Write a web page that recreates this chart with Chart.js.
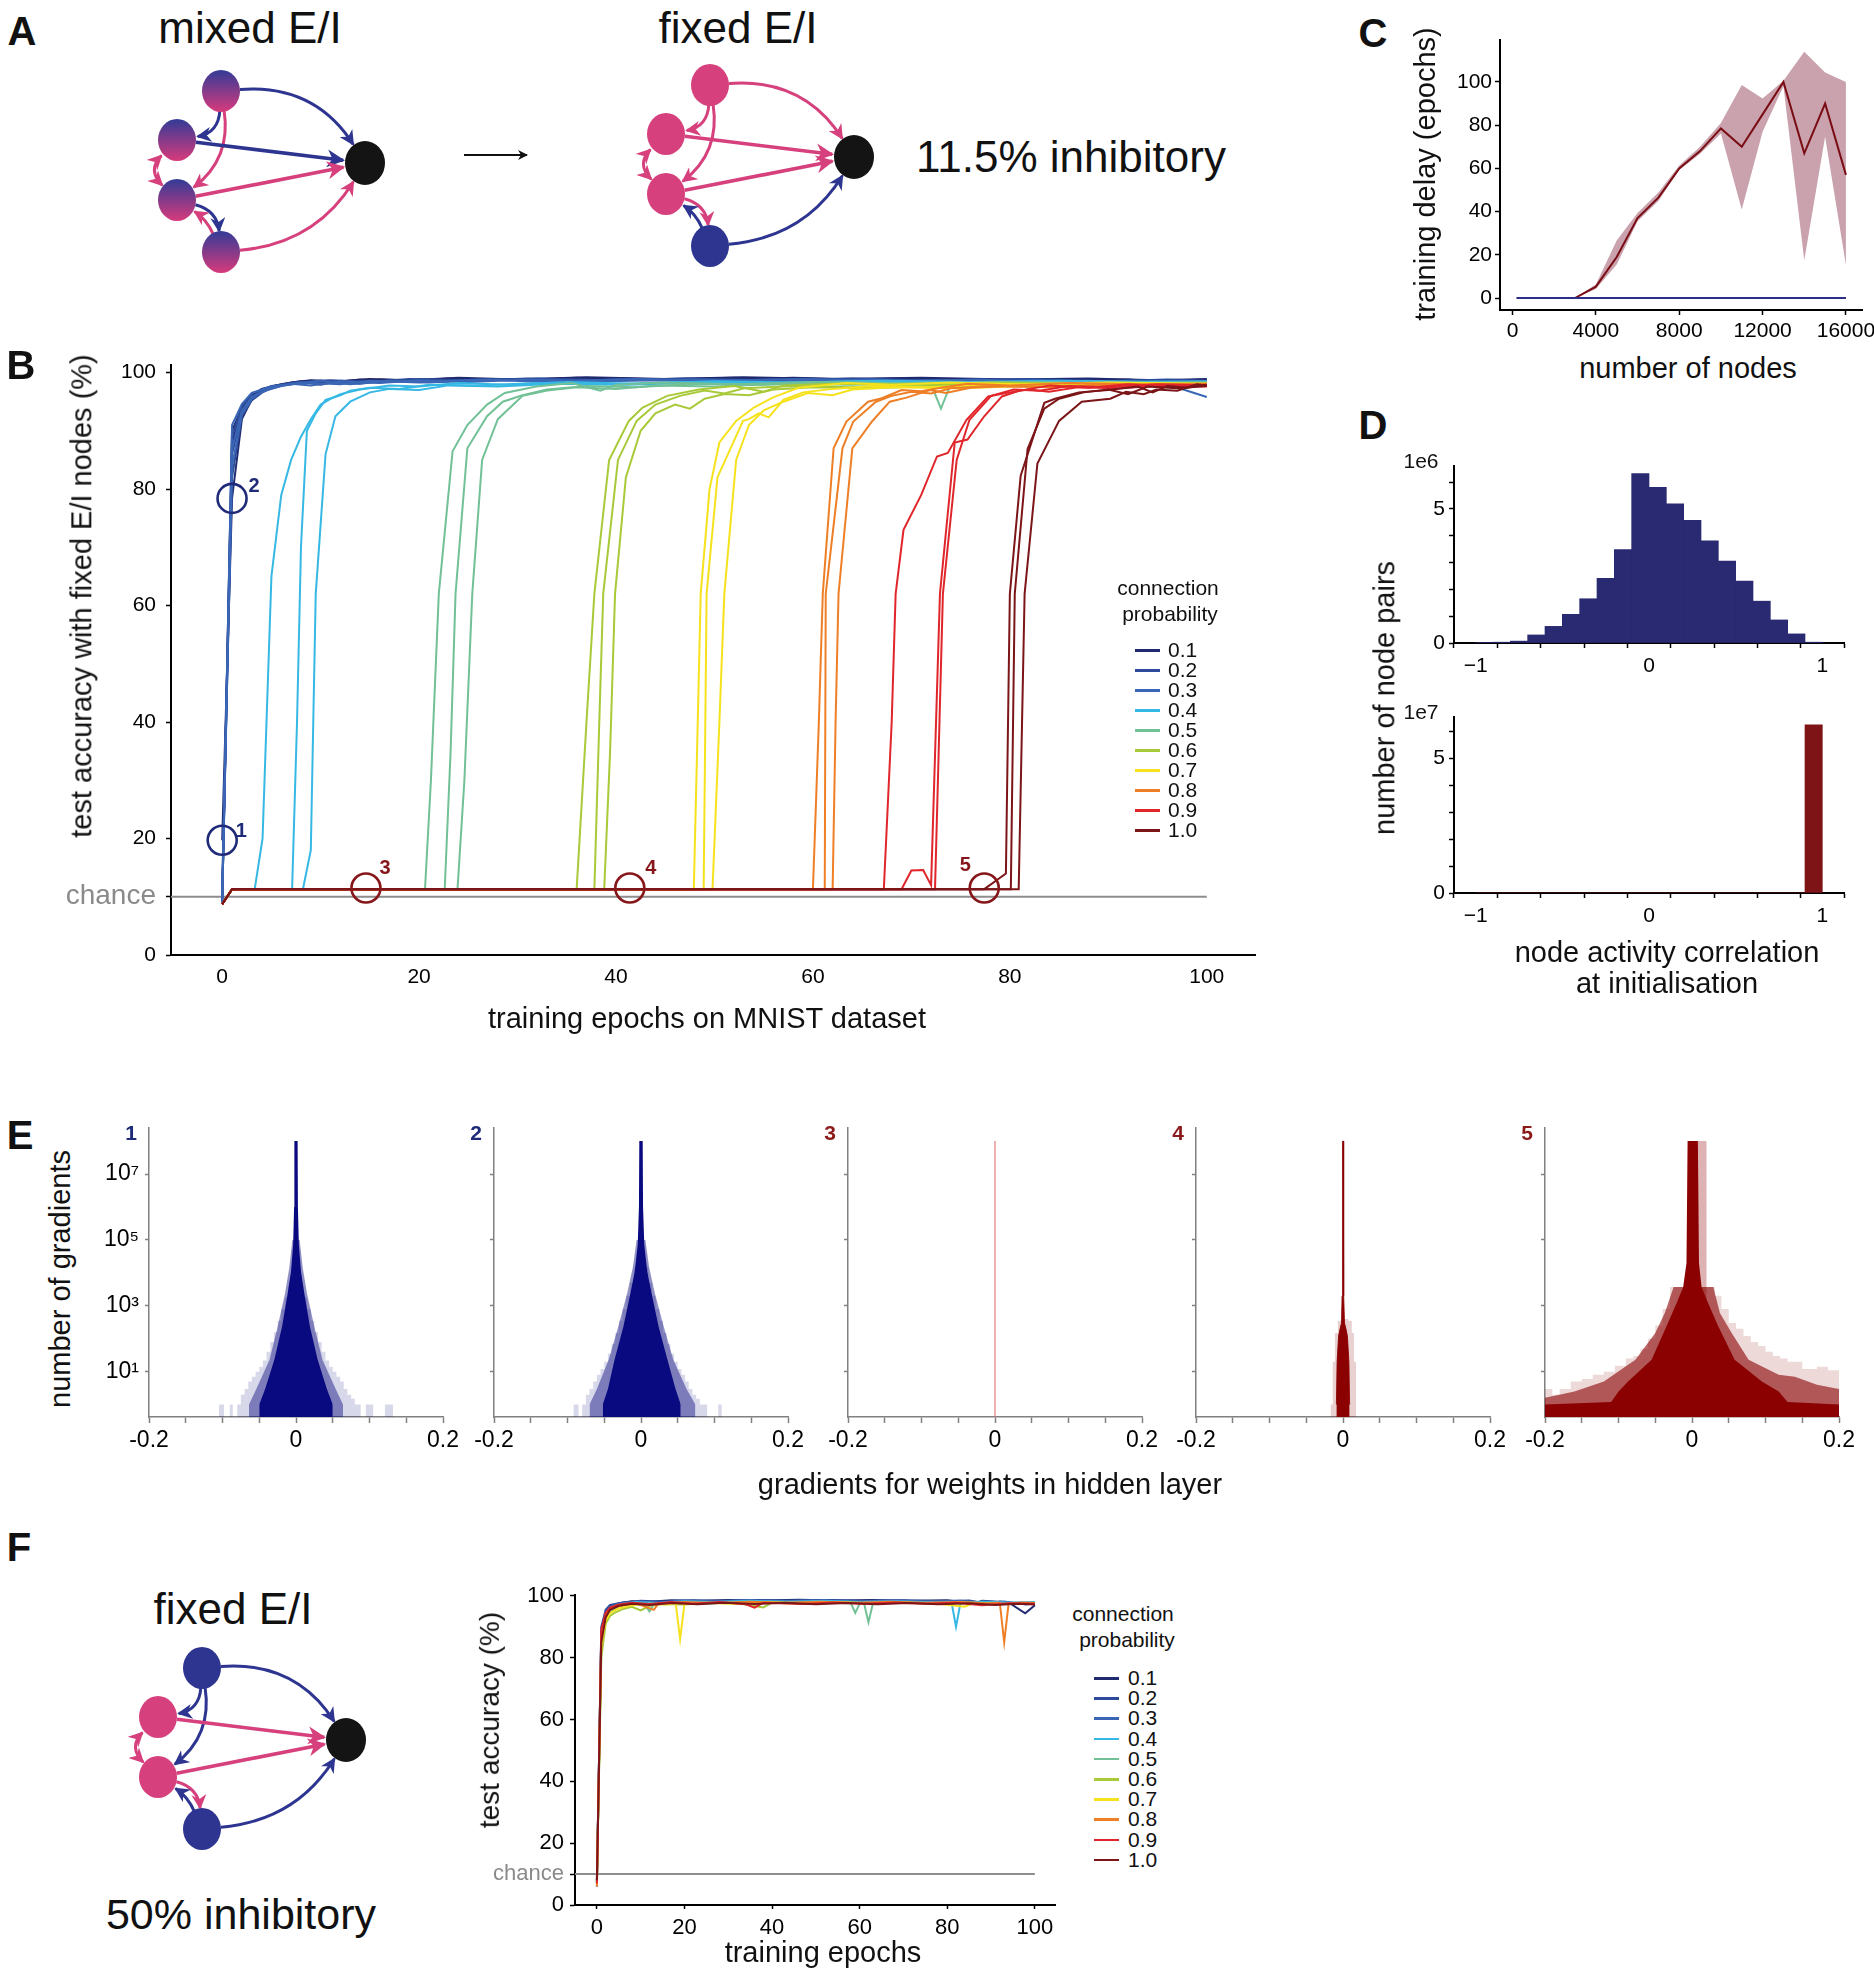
<!DOCTYPE html>
<html>
<head>
<meta charset="utf-8">
<title>fixed E/I figure</title>
<script src="https://cdn.jsdelivr.net/npm/chart.js@4.4.1/dist/chart.umd.min.js"></script>
<style>
  html, body { margin: 0; padding: 0; background: #fff; }
  body { position: relative; width: 1874px; height: 1973px; overflow: hidden;
         font-family: 'Liberation Sans', Arial, Helvetica, sans-serif; color: #111; }
  canvas, .t, .lt, .pl, svg, .key { position: absolute; }
  .t { white-space: nowrap; transform: translate(-50%, -50%); font-size: 29px; line-height: 1.15; }
  .lt { white-space: nowrap; transform: translate(0, -50%); font-size: 21px; line-height: 1.15; }
  .r { transform: translate(-50%, -50%) rotate(-90deg); }
  .pl { font-weight: bold; font-size: 40px; transform: translate(-50%, -50%); line-height: 1.15; }
  .big { font-size: 44px; }
  .sm { font-size: 21px; }
  .num { font-weight: bold; font-size: 21px; }
  .key { height: 2.5px; width: 25px; }
</style>
</head>
<body>

<svg id="nets" width="1874" height="1973" style="left:0;top:0"></svg>

<canvas id="chartB" width="1260" height="690" style="left:20px;top:340px;width:1260px;height:690px"></canvas>
<canvas id="chartC" width="440" height="330" style="left:1440px;top:20px;width:440px;height:330px"></canvas>
<canvas id="chartD1" width="470" height="240" style="left:1400px;top:445px;width:470px;height:240px"></canvas>
<canvas id="chartD2" width="470" height="240" style="left:1400px;top:697px;width:470px;height:240px"></canvas>
<canvas id="chartE1" width="389" height="370" style="left:79px;top:1105px;width:389px;height:370px"></canvas>
<canvas id="chartE2" width="389" height="370" style="left:424px;top:1105px;width:389px;height:370px"></canvas>
<canvas id="chartE3" width="389" height="370" style="left:778px;top:1105px;width:389px;height:370px"></canvas>
<canvas id="chartE4" width="389" height="370" style="left:1126px;top:1105px;width:389px;height:370px"></canvas>
<canvas id="chartE5" width="389" height="370" style="left:1475px;top:1105px;width:389px;height:370px"></canvas>
<canvas id="chartF" width="610" height="398" style="left:460px;top:1575px;width:610px;height:398px"></canvas>

<!-- A -->
<div class="pl" style="left:22px;top:31px">A</div>
<div class="t big" style="left:250px;top:28px">mixed E/I</div>
<div class="t big" style="left:738px;top:28px">fixed E/I</div>
<div class="t" style="left:1071px;top:157px;font-size:44px">11.5% inhibitory</div>

<!-- B -->
<div class="pl" style="left:21px;top:365px">B</div>
<div class="t r" style="left:82px;top:596px">test accuracy with fixed E/I nodes (%)</div>
<div class="t" style="left:707px;top:1019px">training epochs on MNIST dataset</div>
<div class="t sm" style="left:1168px;top:588px">connection</div>
<div class="t sm" style="left:1170px;top:614px">probability</div>
<div id="legendB"></div>

<!-- C -->
<div class="pl" style="left:1373px;top:33px">C</div>
<div class="t r" style="left:1426px;top:174px">training delay (epochs)</div>
<div class="t" style="left:1688px;top:369px">number of nodes</div>

<!-- D -->
<div class="pl" style="left:1373px;top:425px">D</div>
<div class="t sm" style="left:1421px;top:461px">1e6</div>
<div class="t sm" style="left:1421px;top:712px">1e7</div>
<div class="t r" style="left:1385px;top:698px">number of node pairs</div>
<div class="t" style="left:1667px;top:953px">node activity correlation</div>
<div class="t" style="left:1667px;top:984px">at initialisation</div>

<!-- E -->
<div class="pl" style="left:20px;top:1135px">E</div>
<div class="t r" style="left:61px;top:1279px">number of gradients</div>
<div class="t" style="left:990px;top:1485px">gradients for weights in hidden layer</div>
<div class="t num" style="left:131px;top:1133px;color:#1f2a78">1</div>
<div class="t num" style="left:476px;top:1133px;color:#1f2a78">2</div>
<div class="t num" style="left:830px;top:1133px;color:#8b1a1a">3</div>
<div class="t num" style="left:1178px;top:1133px;color:#8b1a1a">4</div>
<div class="t num" style="left:1527px;top:1133px;color:#8b1a1a">5</div>

<!-- F -->
<div class="pl" style="left:19px;top:1547px">F</div>
<div class="t big" style="left:233px;top:1609px">fixed E/I</div>
<div class="t" style="left:241px;top:1915px;font-size:43px">50% inhibitory</div>
<div class="t r" style="left:490px;top:1720px;font-size:28px">test accuracy (%)</div>
<div class="t" style="left:823px;top:1953px">training epochs</div>
<div class="t sm" style="left:1123px;top:1614px">connection</div>
<div class="t sm" style="left:1127px;top:1640px">probability</div>
<div id="legendF"></div>

<script>
// ---------- data ----------
const probLabels = ['0.1', '0.2', '0.3', '0.4', '0.5', '0.6', '0.7', '0.8', '0.9', '1.0'];
const probColors = ['#202a6f', '#2c4b9b', '#3a66b5', '#36b8e4', '#72c096',
                    '#a8c938', '#f6e21c', '#ee7f26', '#e1262b', '#7b1518'];

// B: test accuracy per epoch, three runs per connection probability, [epoch, %]
const runsB01 = [
  [[0,19.7],[1,78.4],[2,92],[3,95.4],[4,96.8],[5,97.6],[7,98.3],[9,98.7],[12,98.5],[15,98.9],[19,98.7],[24,99.1],[30,98.8],[37,99.2],[45,98.9],[53,99.2],[62,98.9],[71,99.1],[80,98.8],[88,99],[95,98.7],[100,98.9]],
  [[0,9],[1,88],[2,93.6],[3,96],[4,97.2],[6,98],[8,98.5],[11,98.3],[14,98.8],[18,98.5],[23,99],[29,98.7],[36,99.1],[44,98.8],[52,99.1],[61,98.8],[70,99],[79,98.7],[87,98.9],[94,98.5],[100,98.8]],
  [[0,9.3],[1,90],[2,94],[3,96.2],[5,97.6],[7,98],[9,98.6],[13,98.2],[16,98.8],[21,98.5],[27,98.9],[33,98.6],[41,99],[49,98.7],[58,99.1],[67,98.7],[76,98.9],[85,98.6],[92,98.8],[97,98.2],[100,98.7]]
];
const runsB02 = [
  [[0,9.1],[1,86],[2,93],[3,95.7],[4,97],[6,97.9],[8,98.4],[10,97.9],[12,98.6],[16,98.3],[20,98.9],[26,98.6],[32,99],[39,98.7],[47,99],[55,98.7],[64,99],[73,98.6],[82,98.9],[90,98.5],[96,98.8],[100,98.6]],
  [[0,12],[1,82],[2,92.6],[3,95.2],[4,96.5],[5,97.4],[7,98.2],[10,98.6],[14,98.1],[17,98.7],[22,98.4],[28,98.9],[35,98.6],[43,98.9],[51,98.5],[60,98.9],[69,98.6],[78,98.8],[86,98.4],[93,98.7],[100,98.5]],
  [[0,9.4],[1,89],[2,94.3],[3,96.4],[5,97.7],[8,98.3],[11,98.7],[15,98.4],[19,98.9],[25,98.6],[31,99],[38,98.6],[46,98.9],[54,98.5],[63,98.9],[72,98.5],[81,98.8],[89,98.3],[95,98.6],[100,98.3]]
];
const runsB03 = [
  [[0,9.2],[1,84],[2,92.8],[3,95.5],[4,96.7],[6,97.7],[8,98.2],[10,98.6],[13,98],[17,98.6],[21,98.3],[27,98.8],[34,98.5],[42,98.9],[50,98.6],[59,98.9],[68,98.5],[77,98.8],[84,98.2],[86,98.6],[91,98.1],[95,98.5],[100,95.8]],
  [[0,10],[1,87],[2,93.5],[3,95.9],[5,97.3],[7,98.1],[9,97.8],[12,98.5],[16,98.2],[20,98.7],[25,98.4],[31,98.8],[39,98.5],[48,98.8],[57,98.4],[66,98.8],[75,98.4],[83,98.7],[89,97.9],[92,98.5],[95,97.6],[97,98.3],[100,98.2]],
  [[0,9],[1,91],[2,94.6],[3,96.5],[5,97.6],[8,98.3],[12,98],[15,98.6],[20,98.3],[26,98.8],[33,98.4],[40,98.8],[48,98.5],[56,98.8],[65,98.4],[74,98.7],[82,98.3],[88,98.6],[94,97.9],[100,98.3]]
];
const runsB04 = [
  [[0,8.7],[1,11.3],[3.3,11.3],[4.1,20],[5,65],[6,79],[7,85],[8,89],[9,92],[10,94.5],[11,95.5],[12,96.3],[14,97.1],[17,97.8],[20,97.6],[24,98.2],[29,97.9],[35,98.4],[42,98.1],[50,98.5],[58,98.3],[67,98.6],[76,98.4],[85,98.6],[93,98.4],[100,98.5]],
  [[0,8.7],[1,11.3],[7.1,11.3],[7.6,40],[8,70],[8.6,90],[9.5,93],[10.5,95.3],[12,96.1],[13,96.9],[15,97.4],[18,97.2],[21,97.9],[26,97.8],[32,98.2],[39,98],[47,98.4],[56,98.2],[65,98.5],[75,98.3],[86,98.5],[100,98.4]],
  [[0,8.7],[1,11.3],[8.2,11.3],[9,18],[9.5,62],[10.5,86],[11.5,92.5],[13,95],[15,96.6],[17,97.2],[20,97],[23,97.8],[28,97.6],[34,98.1],[41,97.9],[49,98.3],[57,98.1],[66,98.4],[76,98.2],[88,98.4],[100,98.3]]
];
const runsB05 = [
  [[0,8.7],[1,11.3],[20.6,11.3],[21.2,30],[22,62],[23.4,86.5],[24.9,91],[26.9,94.5],[28.7,96.5],[31.9,97.6],[35.5,98.2],[38.4,96.9],[40,97.9],[45,98.3],[52,98],[60,98.4],[68,98.2],[72,98],[73,93.8],[74,98],[82,98.3],[91,98.1],[100,98.3]],
  [[0,8.7],[1,11.3],[22.6,11.3],[23.2,35],[23.7,62],[24.9,87],[26.9,92.5],[28.5,95],[30.5,96.1],[33,97.1],[37,97.7],[42,97.5],[48,98.1],[55,97.9],[63,98.3],[71,98.1],[80,98.4],[90,98.2],[100,98.3]],
  [[0,8.7],[1,11.3],[23.9,11.3],[24.6,30],[25.4,62],[26.4,85],[28,92],[30.5,96],[33,96.9],[36,97.5],[40,97.2],[44,97.8],[50,97.6],[57,98.1],[64,97.9],[72,98.3],[81,98.1],[91,98.3],[100,98.2]]
];
const runsB06 = [
  [[0,8.7],[1,11.3],[36,11.3],[37,40],[37.8,62],[39.3,85],[41.3,91.7],[42.7,94],[45.2,96],[48.4,97.1],[52,97.7],[55,96.7],[57,97.8],[62,98.1],[70,97.9],[78,98.3],[88,98.1],[100,98.2]],
  [[0,8.7],[1,11.3],[37.8,11.3],[38.3,40],[38.7,62],[40.2,85],[42.1,91.7],[44,94.5],[46.5,96],[49,96.9],[51,96.4],[53,97.3],[58,97.7],[64,97.5],[71,98],[80,97.8],[90,98.1],[100,98]],
  [[0,8.7],[1,11.3],[38.8,11.3],[39.4,35],[39.9,62],[41,82],[42.5,90],[44,93],[46,94.5],[47.5,93.8],[49,95.5],[51,96.3],[53.5,96.1],[56,97.1],[60,97.5],[66,97.3],[73,97.8],[82,97.6],[92,97.9],[100,97.8]]
];
const runsB07 = [
  [[0,8.7],[1,11.3],[47.9,11.3],[48.3,40],[48.6,62],[49.5,80],[50.5,88],[52.2,91.7],[54,94],[55.9,95.7],[58.5,97.4],[63.4,98.2],[68,97.9],[74,98.3],[81,98],[90,98.3],[100,98.1]],
  [[0,8.7],[1,11.3],[48.9,11.3],[49.2,62],[50.3,82],[52.9,91.7],[53.5,92],[54.5,93],[55.5,92.3],[57,95.3],[59,96.6],[62,97.2],[66,97.7],[72,97.5],[78,98],[86,97.8],[94,98.1],[100,98]],
  [[0,8.7],[1,11.3],[49.8,11.3],[50.5,40],[51,62],[52.2,85],[53.5,91],[55,93.5],[57,95],[59.5,96.5],[62,96.1],[64,97.1],[68,97.5],[75,97.3],[83,97.8],[92,97.6],[100,97.8]]
];
const runsB08 = [
  [[0,8.7],[1,11.3],[60,11.3],[60.6,40],[61,62],[62.1,87],[63.4,91.6],[65.6,95],[67,95.6],[69,97],[71,96.8],[73,97.4],[75.7,98.1],[80,97.8],[86,98.2],[93,98],[100,98.1]],
  [[0,8.7],[1,11.3],[61.2,11.3],[61.3,62],[63,87],[64.1,91.6],[66.4,95],[68,96],[70,96.7],[72,96.4],[74,97.3],[78,97.7],[84,97.5],[90,98],[100,97.8]],
  [[0,8.7],[1,11.3],[62,11.3],[62.3,40],[62.6,62],[64,87],[66,91.6],[67.8,95],[69.5,95.7],[71.9,97],[73.5,96.5],[76,97.4],[80,97.7],[87,97.5],[94,97.9],[100,97.7]]
];
const runsB09 = [
  [[0,8.7],[1,11.3],[67.2,11.3],[68,40],[68.4,62],[69.2,73],[71,79],[72.6,85.6],[73.7,86.2],[75.6,91.9],[77.8,95.9],[80,96.6],[81.9,97.1],[84,96.7],[87,97.5],[91,97.3],[95,97.7],[100,97.6]],
  [[0,8.7],[1,11.3],[69,11.3],[70,14.5],[71.2,14.6],[72,12],[72.9,62],[74.4,88],[75.7,88.5],[77.4,92.5],[79.2,95.9],[81,96.9],[84.1,97.8],[88,97.4],[92,98],[96,97.6],[100,97.9]],
  [[0,8.7],[1,11.3],[72.4,11.3],[73.2,62],[74.6,85],[75.9,91.9],[78.1,96],[80.4,97.1],[83,96.9],[86,97.7],[90,97.5],[95,98],[100,97.8]]
];
const runsB10 = [
  [[0,8.7],[1,11.3],[77.4,11.3],[78.8,13],[79.6,14],[80,62],[81.1,82.3],[83.5,94.8],[84.6,95.5],[87,96.6],[90,97],[93,97.6],[94.5,96.6],[96,97.7],[98,97.4],[100,97.9]],
  [[0,8.7],[1,11.3],[80.1,11.3],[80.5,62],[81.8,86.9],[83.5,93.8],[85,95.5],[87.5,96.6],[90,97.1],[92,96.3],[94,97.6],[97,97.3],[100,97.7]],
  [[0,8.7],[1,11.3],[80.9,11.3],[81.5,62],[82.8,84.4],[85,91.7],[87.3,95],[90.2,95.5],[91.8,96.7],[93.6,96.3],[94.9,97.1],[97,96.9],[99,98],[100,97.8]]
];
const runsB = [runsB01, runsB02, runsB03, runsB04, runsB05, runsB06, runsB07, runsB08, runsB09, runsB10];

const markerEpochs = [0, 1, 14.6, 41.4, 77.4];
const markerAcc = [19.7, 78.4, 11.5, 11.5, 11.5];
const markerNames = ['1', '2', '3', '4', '5'];
const chanceAcc = 10;
const epochTicks = [0, 20, 40, 60, 80, 100];
const accTicks = [0, 10, 20, 40, 60, 80, 100];

// C: training delay vs network size
const nodeCounts = [200, 1000, 2000, 3000, 4000, 5000, 6000, 7000, 8000, 9000, 10000, 11000, 12000, 13000, 14000, 15000, 16000];
const delayFixed = [0, 0, 0, 0, 5.3, 19, 37, 46.5, 60, 68, 78.5, 70, 85, 100, 67, 90, 57];
const delayUpper = [0, 0, 0, 0, 6.3, 26.6, 39.4, 48.8, 61.3, 70, 81, 98.6, 92.3, 100.5, 114, 104.4, 100];
const delayLower = [0, 0, 0, 0, 4.2, 15.5, 35.5, 44.9, 59.3, 66.8, 76.2, 41, 77, 98, 17.5, 74.6, 15.2];
const delayMixed = [0, 0, 0, 0, 0, 0, 0, 0, 0, 0, 0, 0, 0, 0, 0, 0, 0];
const nodeTicks = [0, 4000, 8000, 12000, 16000];
const delayTicks = [0, 20, 40, 60, 80, 100];

// D: node activity correlation histograms (bins of 0.1)
const corrBins = [-0.95, -0.85, -0.75, -0.65, -0.55, -0.45, -0.35, -0.25, -0.15, -0.05,
                  0.05, 0.15, 0.25, 0.35, 0.45, 0.55, 0.65, 0.75, 0.85, 0.95];
const pairsMixed = [0.02e6, 0.03e6, 0.07e6, 0.3e6, 0.62e6, 1.07e6, 1.65e6, 2.41e6, 3.48e6, 6.32e6,
                    5.8e6, 5.19e6, 4.57e6, 3.81e6, 3.05e6, 2.31e6, 1.56e6, 0.86e6, 0.34e6, 0.03e6];
const pairsFixed = [0, 0, 0, 0, 0, 0, 0, 0, 0, 0, 0, 0, 0, 0, 0, 0, 0, 0, 0, 6.23e7];
const corrTicks = [-1, -0.75, -0.5, -0.25, 0, 0.25, 0.5, 0.75, 1];
const corrLabels = ['\u22121', '', '', '', '0', '', '', '', '1'];
const pairTicksMixed = [0, 1e6, 2e6, 3e6, 4e6, 5e6, 6e6];
const pairTicksFixed = [0, 1e7, 2e7, 3e7, 4e7, 5e7, 6e7];

// E: gradient histograms [gradient, count]; "light" layers are binned (left edge, count)
const gradCore1 = [[-0.05,1],[-0.042,3],[-0.0295,23],[-0.019,230],[-0.0114,2300],[-0.0068,1.1e4],[-0.0039,7e4],[-0.0026,1e6],[-0.0022,1e8],[0.0022,1e8],[0.0026,1e6],[0.0039,7e4],[0.0068,1.1e4],[0.0114,2300],[0.019,230],[0.0295,23],[0.042,3],[0.05,1]];
const gradMid1 = [[-0.064,1],[-0.054,3],[-0.036,23],[-0.025,230],[-0.015,2300],[-0.009,1.5e4],[-0.005,1e5],[0.005,1e5],[0.009,1.5e4],[0.015,2300],[0.025,230],[0.036,23],[0.054,3],[0.064,1]];
const gradLight1 = [[-0.105,1],[-0.098,0.42],[-0.09,1],[-0.086,0.42],[-0.08,1],[-0.075,2],[-0.07,3],[-0.065,5],[-0.06,7],[-0.055,10],[-0.05,14],[-0.045,22],[-0.04,40],[-0.035,80],[-0.03,160],[-0.025,350],[-0.02,800],[-0.015,1800],[-0.01,4000],[-0.005,1e4],[0.005,4000],[0.01,1800],[0.015,800],[0.02,350],[0.025,160],[0.03,80],[0.035,40],[0.04,22],[0.045,14],[0.05,10],[0.055,7],[0.06,5],[0.065,3],[0.07,2],[0.075,1.5],[0.08,1],[0.088,0.42],[0.095,1],[0.105,0.42],[0.121,1],[0.132,0.42]];
const gradCore2 = [[-0.052,1],[-0.045,3],[-0.036,23],[-0.024,230],[-0.0145,2300],[-0.0085,1.1e4],[-0.0045,7e4],[-0.0028,1e6],[-0.0023,1e8],[0.0023,1e8],[0.0028,1e6],[0.0045,7e4],[0.0085,1.1e4],[0.0145,2300],[0.024,230],[0.036,23],[0.047,3],[0.054,1]];
const gradMid2 = [[-0.07,1],[-0.06,3],[-0.044,23],[-0.031,230],[-0.019,2300],[-0.011,1.5e4],[-0.006,1e5],[0.006,1e5],[0.011,1.5e4],[0.019,2300],[0.031,230],[0.044,23],[0.062,3],[0.074,1]];
const gradLight2 = [[-0.092,1],[-0.085,0.42],[-0.08,1],[-0.075,2],[-0.07,3],[-0.065,5],[-0.06,8],[-0.055,12],[-0.05,20],[-0.045,35],[-0.04,70],[-0.035,150],[-0.03,350],[-0.025,800],[-0.02,2000],[-0.015,5000],[-0.01,1.5e4],[0.01,5000],[0.015,2000],[0.02,800],[0.025,350],[0.03,150],[0.035,70],[0.04,35],[0.045,20],[0.05,12],[0.055,8],[0.06,5],[0.065,3],[0.07,2],[0.075,1.5],[0.08,1],[0.09,0.42],[0.105,1],[0.11,0.42]];
const gradLine3 = [[0,0.42],[0,1e8]];
const gradCore4 = [[-0.009,1],[-0.008,20],[-0.006,120],[-0.004,200],[-0.002,300],[-0.0012,2000],[-0.0006,1e5],[-0.0004,1e8],[0.0004,1e8],[0.0006,1e5],[0.0012,2000],[0.002,300],[0.004,200],[0.006,120],[0.008,20],[0.009,1]];
const gradLight4 = [[-0.017,1],[-0.014,20],[-0.011,150],[-0.007,350],[0,400],[0.007,350],[0.012,150],[0.015,20],[0.018,1]];
const gradCore5 = [[-0.2,1],[-0.11,1.2],[-0.1,2.5],[-0.087,5],[-0.055,23],[-0.035,230],[-0.021,1200],[-0.012,3700],[-0.0075,2e4],[-0.006,1e8],[0.008,1e8],[0.0095,2e4],[0.013,3700],[0.022,1200],[0.036,230],[0.058,23],[0.095,5],[0.118,2.5],[0.13,1.2],[0.2,1]];
const gradMid5 = [[-0.2,1.6],[-0.16,2.5],[-0.12,5],[-0.077,23],[-0.05,150],[-0.037,600],[-0.025,3700],[0.029,3700],[0.038,600],[0.054,150],[0.077,23],[0.118,8],[0.14,7],[0.17,4],[0.2,3]];
const gradSpike5 = [[0.006,1e8],[0.02,1e8]];
const gradLight5 = [[-0.2,3],[-0.19,2],[-0.18,3],[-0.165,5],[-0.15,6],[-0.135,8],[-0.12,10],[-0.105,15],[-0.09,25],[-0.08,30],[-0.07,50],[-0.06,100],[-0.05,250],[-0.04,800],[-0.03,3700],[0.031,2000],[0.04,800],[0.05,300],[0.06,200],[0.07,120],[0.08,80],[0.09,60],[0.1,40],[0.11,30],[0.12,25],[0.13,20],[0.15,12],[0.17,14],[0.185,11],[0.2,11]];
const gradTicks = [-0.2, -0.15, -0.1, -0.05, 0, 0.05, 0.1, 0.15, 0.2];
const gradLabels = ['-0.2', '', '', '', '0', '', '', '', '0.2'];
const countTicks = [10, 1e3, 1e5, 1e7];
const countLabels = ['10\u00b9', '10\u00b3', '10\u2075', '10\u2077'];

// F: 50% inhibitory, one run per connection probability
const runsF = [
  [[0,7.5],[1,88],[2,95],[3,96.6],[5,97.6],[8,98.3],[12,98.1],[17,98.6],[23,98.4],[30,98.7],[38,98.5],[46,98.8],[55,98.5],[63,98.7],[72,98.4],[80,98.6],[86,97.6],[88,98.4],[94,97.9],[97.8,94.4],[100,97]],
  [[0,6],[1,90],[2,95.5],[3,97.1],[6,97.9],[10,98.4],[16,98.1],[22,98.6],[29,98.3],[37,98.7],[45,98.4],[54,98.7],[62,98.3],[70,98.6],[78,98.3],[85,98.5],[90,97.3],[92,98.2],[96,97.5],[100,97.9]],
  [[0,8],[1,87],[2,94.5],[3,96.4],[5,97.5],[9,98.2],[14,97.9],[19,98.5],[26,98.2],[33,98.6],[41,98.3],[49,98.6],[58,98.2],[66,98.5],[74,98.2],[83,98.4],[89,97.8],[93,98.2],[98,97.2],[100,97.6]],
  [[0,7],[1,86],[2,94],[3,96],[5,97.2],[9,98],[14,97.7],[20,98.3],[27,98],[35,98.4],[44,98.1],[52,98.4],[60,98],[68,98.3],[75,98],[81,97.8],[82,90],[83,97.6],[88,98.2],[94,97.9],[100,98]],
  [[0,7],[1,82],[2,93],[3,95],[5,96.5],[8,97.4],[11,97],[12,95],[13,97.3],[18,97.8],[25,97.5],[32,98],[40,97.7],[48,98],[55,97.7],[58,97.6],[59,94.5],[60,97.5],[61,97.6],[62,91.5],[63,97.4],[68,97.9],[76,97.6],[84,97.9],[92,97.6],[100,97.8]],
  [[0,7.5],[1,80],[2,91],[3,93.5],[4,94.5],[6,95.8],[8,96.5],[10,95.3],[12,96.8],[15,97.4],[20,97.2],[26,97.8],[33,97.5],[38,96.3],[40,97.8],[47,97.5],[54,98],[61,97.6],[69,97.9],[77,97.5],[85,97.8],[93,97.4],[100,97.7]],
  [[0,7],[1,84],[2,92],[3,94.5],[5,96],[8,97],[12,97.5],[16,97.2],[18,97.6],[19,86],[20,97.4],[25,97.8],[31,97.5],[38,98],[46,97.7],[54,98],[62,97.6],[70,97.9],[78,97.5],[84,96.5],[86,97.7],[92,97.3],[100,97.6]],
  [[0,6],[1,87],[2,94],[3,95.8],[5,96.8],[9,97.6],[13,95.5],[14,97.5],[20,98],[27,97.7],[35,98.1],[43,97.8],[51,98.1],[59,97.8],[67,98.1],[75,97.8],[83,98],[89,97.6],[92,97.8],[93,85],[94,97.5],[97,97.9],[100,97.7]],
  [[0,7],[1,89],[2,94.5],[3,96.2],[5,97.2],[8,97.8],[12,97.4],[17,98],[22,97.5],[28,98],[34,97.3],[36,96.2],[38,97.8],[47,97.4],[54,97.9],[61,97.5],[68,97.9],[75,97.5],[82,97.8],[88,97],[94,97.6],[100,97.5]],
  [[0,8],[1,85],[2,93],[3,95.5],[5,96.8],[8,97.5],[12,97.1],[17,97.7],[23,97.3],[29,97.8],[36,97.4],[43,97.8],[50,97.3],[57,97.7],[64,97.3],[71,97.7],[78,97.3],[85,97.6],[91,97.1],[96,97.5],[100,97.2]]
];
const accTicksF = [0, 10, 20, 40, 60, 80, 100];

// ---------- helpers ----------
Chart.defaults.font.family = "'Liberation Sans', Arial, Helvetica, sans-serif";
Chart.defaults.font.size = 21;
Chart.defaults.color = '#000';
Chart.defaults.animation = false;
Chart.defaults.events = [];
Chart.defaults.plugins.legend.display = false;
Chart.defaults.plugins.tooltip.enabled = false;

function fixedAxis(o) {
  return {
    type: o.type || 'linear',
    min: o.min,
    max: o.max,
    afterBuildTicks: s => { s.ticks = o.ticks.map(v => ({ value: v })); },
    afterFit: s => {
      if (s.isHorizontal()) s.height = o.size; else s.width = o.size;
    },
    border: { display: true, color: o.line || '#000', width: o.lineWidth || 2 },
    grid: {
      display: true, drawOnChartArea: false, drawTicks: true,
      tickLength: o.tickLength == null ? 5 : o.tickLength,
      tickWidth: 1.5, tickColor: o.tickColor || o.line || '#000'
    },
    ticks: {
      autoSkip: false, maxRotation: 0, minRotation: 0,
      padding: o.pad == null ? 5 : o.pad,
      color: o.color || '#000',
      font: o.font || { size: 21 },
      callback: o.label || (v => String(v))
    }
  };
}

function pts(arr) { return arr.map(p => ({ x: p[0], y: p[1] })); }

function withOrder(list) {
  // first item is drawn at the bottom
  list.forEach((d, i) => { d.order = list.length - i; });
  return list;
}

// numbered circle labels sit just beside each circle
const markerLabelDx = [19, 22, 19, 21, -19];
const markerLabelDy = [-9, -12, -20, -20, -23];
const markerLabelPlugin = {
  id: 'markerLabels',
  afterDatasetsDraw(chart) {
    const idx = chart.data.datasets.findIndex(d => d.isMarker);
    if (idx < 0) return;
    const ds = chart.data.datasets[idx];
    const ctx = chart.ctx;
    ctx.save();
    ctx.font = "bold 20px 'Liberation Sans', Arial, sans-serif";
    ctx.textAlign = 'center';
    ctx.textBaseline = 'middle';
    chart.getDatasetMeta(idx).data.forEach((el, i) => {
      ctx.fillStyle = ds.pointBorderColor[i];
      ctx.fillText(ds.names[i], el.x + markerLabelDx[i], el.y + markerLabelDy[i]);
    });
    ctx.restore();
  }
};

// ---------- B ----------
const epochMinB = -5.2;
const dsB = [{
  data: [{ x: epochMinB, y: chanceAcc }, { x: 100, y: chanceAcc }],
  borderColor: '#8d8d8d', borderWidth: 2, pointRadius: 0
}];
runsB.forEach((group, g) => {
  group.forEach(run => {
    dsB.push({ data: pts(run), borderColor: probColors[g], borderWidth: 2, pointRadius: 0 });
  });
});
dsB.push({
  isMarker: true, names: markerNames,
  data: markerEpochs.map((e, i) => ({ x: e, y: markerAcc[i] })),
  showLine: false, pointRadius: 14.5, pointBorderWidth: 2.6,
  pointBackgroundColor: 'rgba(0,0,0,0)',
  pointBorderColor: ['#1f2a78', '#1f2a78', '#86161a', '#86161a', '#86161a'],
  clip: false
});

new Chart(document.getElementById('chartB'), {
  type: 'line',
  data: { datasets: withOrder(dsB) },
  options: {
    responsive: false,
    layout: { padding: { top: 25, right: 25, left: 0, bottom: 0 } },
    scales: {
      x: fixedAxis({ min: epochMinB, max: 104.9, ticks: epochTicks, size: 75, tickLength: 4, tickColor: 'rgba(0,0,0,0)', pad: 6 }),
      y: fixedAxis({
        min: 0, max: 101.3, ticks: accTicks, size: 151, tickLength: 5, pad: 10,
        label: v => v === chanceAcc ? 'chance' : String(v),
        color: c => c.tick && c.tick.value === chanceAcc ? '#8a8a8a' : '#000',
        font: c => ({ size: c.tick && c.tick.value === chanceAcc ? 28 : 21 })
      })
    }
  },
  plugins: [markerLabelPlugin]
});

// ---------- C ----------
new Chart(document.getElementById('chartC'), {
  type: 'line',
  data: {
    datasets: [
      { data: nodeCounts.map((n, i) => ({ x: n, y: delayUpper[i] })), fill: '+1',
        backgroundColor: '#c9a2ad', borderWidth: 0, pointRadius: 0, order: 3 },
      { data: nodeCounts.map((n, i) => ({ x: n, y: delayLower[i] })),
        borderWidth: 0, pointRadius: 0, order: 4 },
      { data: nodeCounts.map((n, i) => ({ x: n, y: delayFixed[i] })),
        borderColor: '#7a0c14', borderWidth: 2, pointRadius: 0, order: 2 },
      { data: nodeCounts.map((n, i) => ({ x: n, y: delayMixed[i] })),
        borderColor: '#2b2f8a', borderWidth: 2, pointRadius: 0, order: 1 }
    ]
  },
  options: {
    responsive: false,
    layout: { padding: { top: 20, right: 18, left: 0, bottom: 0 } },
    scales: {
      x: fixedAxis({ min: -600, max: 16770, ticks: nodeTicks, size: 40, tickLength: 5, pad: 4 }),
      y: fixedAxis({ min: -5.5, max: 119.4, ticks: delayTicks, size: 60, tickLength: 5, pad: 3 })
    }
  }
});

// ---------- D ----------
function corrHist(id, counts, color, maxY, yTicks, scaleDiv, padTop, axisH) {
  new Chart(document.getElementById(id), {
    type: 'bar',
    data: {
      datasets: [{
        data: corrBins.map((b, i) => ({ x: b, y: counts[i] })),
        backgroundColor: color, borderWidth: 0,
        barPercentage: 1, categoryPercentage: 1, grouped: false
      }]
    },
    options: {
      responsive: false,
      layout: { padding: { top: padTop, right: 26, left: 0, bottom: 0 } },
      scales: {
        x: fixedAxis({ min: -1, max: 1, ticks: corrTicks, size: axisH, tickLength: 5, pad: 6,
          label: (v, i) => corrLabels[i] }),
        y: fixedAxis({ min: 0, max: maxY, ticks: yTicks, size: 54, tickLength: 5, pad: 4,
          label: v => (v === 0 || v === 5 * scaleDiv) ? String(v / scaleDiv) : '' })
      }
    }
  });
}
corrHist('chartD1', pairsMixed, '#2a2a72', 6.6e6, pairTicksMixed, 1e6, 21, 42);
corrHist('chartD2', pairsFixed, '#7f1416', 6.52e7, pairTicksFixed, 1e7, 20, 44);

// ---------- E ----------
const navyE = [10, 10, 128];
const redE = [139, 0, 0];
function rgba(c, a) { return 'rgba(' + c[0] + ',' + c[1] + ',' + c[2] + ',' + a + ')'; }

function gradHist(id, layers, showYLabels) {
  const datasets = layers.map(l => ({
    data: pts(l.data), fill: l.fill === false ? false : 'start',
    backgroundColor: rgba(l.color, l.alpha), borderColor: rgba(l.color, l.lineAlpha || l.alpha),
    borderWidth: l.width || 0, pointRadius: 0, stepped: l.stepped || false
  }));
  new Chart(document.getElementById(id), {
    type: 'line',
    data: { datasets: withOrder(datasets) },
    options: {
      responsive: false,
      layout: { padding: { top: 23, right: 25, left: 0, bottom: 0 } },
      scales: {
        x: fixedAxis({ min: -0.2, max: 0.2, ticks: gradTicks, size: 58, tickLength: 6, pad: 4,
          line: '#808080', lineWidth: 1.5, font: { size: 23 },
          label: (v, i) => gradLabels[i] }),
        y: fixedAxis({ type: 'logarithmic', min: 0.42, max: 2.5e8, ticks: countTicks, size: 70,
          tickLength: 4, pad: 6, line: '#808080', lineWidth: 1.5, font: { size: 23 },
          label: (v, i) => showYLabels ? countLabels[i] : '' })
      }
    }
  });
}
gradHist('chartE1', [
  { data: gradLight1, color: navyE, alpha: 0.16, stepped: true },
  { data: gradMid1, color: navyE, alpha: 0.45 },
  { data: gradCore1, color: navyE, alpha: 1 }
], true);
gradHist('chartE2', [
  { data: gradLight2, color: navyE, alpha: 0.16, stepped: true },
  { data: gradMid2, color: navyE, alpha: 0.45 },
  { data: gradCore2, color: navyE, alpha: 1 }
], false);
gradHist('chartE3', [
  { data: gradLine3, color: [220, 90, 90], alpha: 0.8, fill: false, width: 1.2 }
], false);
gradHist('chartE4', [
  { data: gradLight4, color: redE, alpha: 0.18, stepped: true },
  { data: gradCore4, color: redE, alpha: 1, lineAlpha: 0.9, width: 1 }
], false);
gradHist('chartE5', [
  { data: gradLight5, color: redE, alpha: 0.15, stepped: true },
  { data: gradSpike5, color: redE, alpha: 0.3, stepped: true },
  { data: gradMid5, color: redE, alpha: 0.6 },
  { data: gradCore5, color: redE, alpha: 1 }
], false);

// ---------- F ----------
const epochMinF = -5;
const dsF = [{
  data: [{ x: epochMinF, y: chanceAcc }, { x: 100, y: chanceAcc }],
  borderColor: '#8d8d8d', borderWidth: 2, pointRadius: 0
}];
runsF.forEach((run, g) => {
  dsF.push({ data: pts(run), borderColor: probColors[g], borderWidth: 2, pointRadius: 0 });
});
new Chart(document.getElementById('chartF'), {
  type: 'line',
  data: { datasets: withOrder(dsF) },
  options: {
    responsive: false,
    layout: { padding: { top: 20, right: 15, left: 0, bottom: 0 } },
    scales: {
      x: fixedAxis({ min: epochMinF, max: 104.6, ticks: epochTicks, size: 68, tickLength: 4, pad: 6, font: { size: 22 } }),
      y: fixedAxis({
        min: 0, max: 100.3, ticks: accTicksF, size: 115, tickLength: 5, pad: 6,
        label: v => v === chanceAcc ? 'chance' : String(v),
        color: c => c.tick && c.tick.value === chanceAcc ? '#8a8a8a' : '#000',
        font: { size: 22 }
      })
    }
  }
});

// ---------- legends ----------
function legend(id, lineX, textX, y0, step) {
  const box = document.getElementById(id);
  probLabels.forEach((lab, i) => {
    const y = y0 + i * step;
    const key = document.createElement('div');
    key.className = 'key';
    key.style.left = lineX + 'px';
    key.style.top = (y - 1) + 'px';
    key.style.background = probColors[i];
    box.appendChild(key);
    const t = document.createElement('div');
    t.className = 'lt';
    t.style.left = textX + 'px';
    t.style.top = y + 'px';
    t.textContent = lab;
    box.appendChild(t);
  });
}
legend('legendB', 1135, 1168, 650, 20);
legend('legendF', 1094, 1128, 1678, 20.2);

// ---------- network sketches (A, F) ----------
const netLayout = [[-144, -72], [-188, -23], [-188, 37], [-144, 89]];
// [from, to, bend, double-headed]; node 4 is the output node
const netEdges = [[0, 4, -0.3], [0, 1, -0.4], [0, 2, -0.3], [1, 4, 0], [1, 2, 0.5, true],
                  [2, 4, 0], [2, 3, -0.35], [3, 2, 0.15], [3, 4, 0.25]];
const BLUE = '#2d3590', PINK = '#d6407c';

function netSvg(cx, cy, fills, colors) {
  const p = netLayout.map(d => [cx + d[0], cy + d[1]]).concat([[cx, cy]]);
  let s = '';
  netEdges.forEach((e, i) => {
    const a = p[e[0]], b = p[e[1]], bend = e[2];
    const dx = b[0] - a[0], dy = b[1] - a[1];
    const c = [(a[0] + b[0]) / 2 - dy * bend, (a[1] + b[1]) / 2 + dx * bend];
    const ua = [c[0] - a[0], c[1] - a[1]], la = Math.hypot(ua[0], ua[1]);
    const ub = [c[0] - b[0], c[1] - b[1]], lb = Math.hypot(ub[0], ub[1]);
    const ra = e[3] ? 22 : 19, rb = e[1] === 4 ? 22 : 21;
    const st = [a[0] + ua[0] / la * ra, a[1] + ua[1] / la * ra];
    const en = [b[0] + ub[0] / lb * rb, b[1] + ub[1] / lb * rb];
    const col = colors[i];
    const id = col === BLUE ? 'ahB' : 'ahP';
    const w = e[1] === 4 && bend === 0 ? 3.6 : 3;
    s += '<path d="M' + st[0].toFixed(1) + ',' + st[1].toFixed(1) + ' Q' + c[0].toFixed(1) + ',' + c[1].toFixed(1) +
         ' ' + en[0].toFixed(1) + ',' + en[1].toFixed(1) + '" fill="none" stroke="' + col + '" stroke-width="' + w +
         '" marker-end="url(#' + id + ')"' + (e[3] ? ' marker-start="url(#' + id + ')"' : '') + '/>';
  });
  p.slice(0, 4).forEach((q, i) => {
    s += '<ellipse cx="' + q[0] + '" cy="' + q[1] + '" rx="19" ry="21" fill="' + fills[i] + '"/>';
  });
  s += '<ellipse cx="' + cx + '" cy="' + cy + '" rx="20" ry="22" fill="#141414"/>';
  return s;
}

function marker(id, color) {
  return '<marker id="' + id + '" viewBox="0 0 10 10" refX="9" refY="5" markerWidth="5" markerHeight="5" ' +
         'orient="auto-start-reverse"><path d="M0,0 L10,5 L0,10 L3,5 z" fill="' + color + '"/></marker>';
}

const svg = document.getElementById('nets');
svg.innerHTML =
  '<defs>' + marker('ahB', BLUE) + marker('ahP', PINK) + marker('ahK', '#111') +
  '<linearGradient id="mixGrad" x1="0" y1="0" x2="0" y2="1">' +
  '<stop offset="0" stop-color="#323b96"/><stop offset="1" stop-color="#d83a7c"/></linearGradient></defs>' +
  netSvg(365, 163, ['url(#mixGrad)', 'url(#mixGrad)', 'url(#mixGrad)', 'url(#mixGrad)'],
         [BLUE, BLUE, PINK, BLUE, PINK, PINK, BLUE, PINK, PINK]) +
  '<path d="M464,155 L527,155" stroke="#111" stroke-width="2" marker-end="url(#ahK)"/>' +
  netSvg(854, 157, [PINK, PINK, PINK, BLUE],
         [PINK, PINK, PINK, PINK, PINK, PINK, PINK, BLUE, BLUE]) +
  netSvg(346, 1740, [BLUE, PINK, PINK, BLUE],
         [BLUE, BLUE, BLUE, PINK, PINK, PINK, PINK, BLUE, BLUE]);
</script>
</body>
</html>
